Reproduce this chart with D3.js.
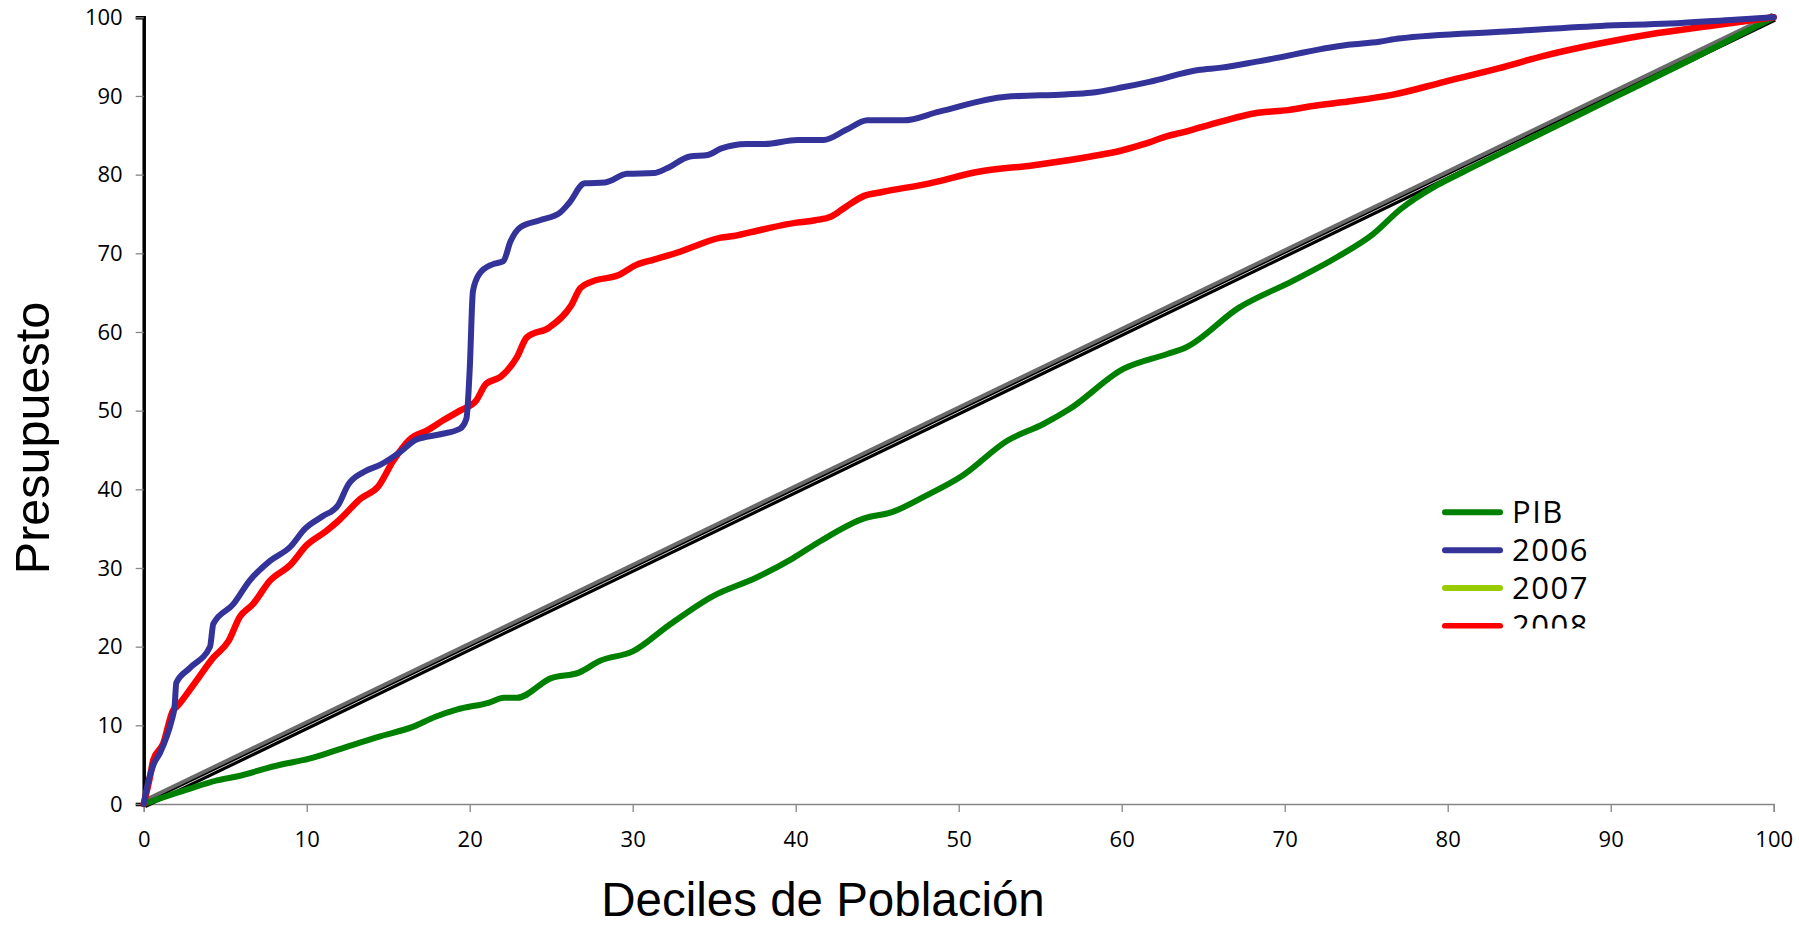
<!DOCTYPE html>
<html><head><meta charset="utf-8">
<script src="https://cdn.jsdelivr.net/npm/d3@7"></script>
<style>body{margin:0;background:#fff}svg{display:block}</style>
</head><body>
<script>
// ---- data ----
const xTicks = [0,10,20,30,40,50,60,70,80,90,100];
const yTicks = [0,10,20,30,40,50,60,70,80,90,100];
const legendLabels = ["PIB","2006","2007","2008"];
const legendColors = ["#008000","#333399","#99CC00","#FF0000"];

const equalityX = [0,100];
const equalityY = [0,100];

const pibX = [0,2.6,4.5,5.7,8.0,10.4,12.5,14.5,16.5,17.9,19.2,21.2,22.1,22.9,25.0,26.7,28.0,30.0,32.2,34.9,37.6,39.8,41.5,44.2,45.9,48.0,50.2,53.0,55.2,56.8,60.1,62.8,63.9,67.2,70.5,73.2,75.4,77.1,79.3,81,85,90,95,100];
const pibY = [0,1.8,3.0,3.5,4.8,5.9,7.3,8.6,9.8,11.1,12.0,12.9,13.5,13.5,16.0,16.7,18.2,19.4,22.7,26.4,28.8,31.2,33.4,36.3,37.1,39.2,41.7,46.2,48.3,50.2,55.3,57.2,58.0,63.1,66.5,69.5,72.4,75.6,78.6,80.4,84.5,89.6,94.7,100];

const s2006X = [0,0.3,0.6,1.0,1.4,1.7,1.9,2.0,2.84,4.07,4.27,5.5,6.5,7.75,9.0,9.9,11.0,11.9,12.55,13.5,14.5,15.7,16.7,18.2,19.4,19.8,20.0,20.2,20.6,21.4,22.06,22.5,23.1,24.3,25.5,26.1,27.05,28.3,29.65,31.3,32.1,33.5,34.6,35.4,37.0,38.1,40.1,41.7,43.1,44.4,46.6,48.8,52.9,56.5,58.1,60.05,61.7,64.7,66.1,68.4,73.9,75.8,77.0,83.6,89.4,93.6,97.6,100];
const s2006Y = [0,3,5,6.5,8.5,10.5,12.5,15.4,17.3,20.0,22.9,25.4,28.4,30.9,32.7,35.0,36.6,37.9,40.6,42.2,43.1,44.7,46.3,47.0,47.7,49.0,55.2,65.2,67.4,68.6,69.0,71.5,73.3,74.2,75.1,76.4,78.9,79.0,80.1,80.2,80.8,82.3,82.5,83.3,83.9,83.9,84.4,84.4,85.7,86.9,86.9,88.0,89.9,90.2,90.4,91.1,91.8,93.3,93.6,94.4,96.5,96.9,97.3,98.2,98.9,99.2,99.7,100];

const s2008X = [0,0.39,0.59,1.2,1.8,2.0,3.0,4.27,5.2,5.9,6.7,7.75,9.0,10.0,11.2,12.0,13.3,14.4,15.3,16.3,17.4,18.4,19.4,20.4,21.0,21.9,22.9,23.5,24.9,26.2,26.8,27.5,29.1,30.2,31.3,32.9,33.8,35.4,36.2,37.9,40.05,41.2,42.2,43.07,44.2,45.3,48.0,51.3,54.6,58.1,60.05,61.4,62.8,63.6,65.0,68.5,70.2,71.6,73.9,76.5,79.8,83.1,85.9,89.4,92.9,96.4,100];
const s2008Y = [0,3.5,5.6,7.7,11.9,12.3,15.0,18.6,20.7,23.8,25.4,28.4,30.4,32.9,34.7,36.1,38.8,40.4,43.6,46.3,47.5,48.8,50.0,51.3,53.4,54.3,56.8,59.3,60.6,63.3,65.6,66.4,67.2,68.5,69.2,70.2,70.9,72.0,72.2,73.0,73.9,74.2,74.7,75.9,77.3,77.8,78.8,80.4,81.2,82.3,83.1,83.9,84.9,85.3,86.1,87.9,88.2,88.7,89.3,90.1,91.8,93.5,95.1,96.7,98.0,99.0,100];

// ---- chart ----
const W = 1799, H = 925;
const svg = d3.select("body").append("svg").attr("width", W).attr("height", H);
const x = d3.scaleLinear().domain([0,100]).range([143.7,1773.7]);
const y = d3.scaleLinear().domain([0,100]).range([804,17.3]);
const tickFont = "'Open Sans', 'Noto Sans', sans-serif";

// x axis
const xAxis = svg.append("g").attr("transform", `translate(0,${y(0)})`)
  .call(d3.axisBottom(x).tickValues(xTicks).tickSize(8).tickPadding(19).tickFormat(d3.format("d")));
xAxis.select(".domain").attr("stroke", "#868686").attr("stroke-width", 1.3);
xAxis.selectAll(".tick line").attr("stroke", "#868686").attr("stroke-width", 1.3);
xAxis.selectAll("text").attr("fill", "#000").style("font-family", tickFont).style("font-size", "22px");

// y axis
const yAxis = svg.append("g").attr("transform", `translate(${x(0)},0)`)
  .call(d3.axisLeft(y).tickValues(yTicks).tickSize(8).tickPadding(13).tickFormat(d3.format("d")));
yAxis.select(".domain").attr("stroke", "#000").attr("stroke-width", 3.5);
yAxis.selectAll(".tick line").attr("stroke", "#868686").attr("stroke-width", 1.3);
yAxis.selectAll("text").attr("fill", "#000").style("font-family", tickFont).style("font-size", "22px");

const lineGen = d3.line().x(d => x(d[0])).y(d => y(d[1])).curve(d3.curveMonotoneX);
const zip = (a, b) => a.map((v, i) => [v, b[i]]);

// equality diagonal (gray shadow + black line with thin white core)
const eq = zip(equalityX, equalityY);
svg.append("path").attr("d", lineGen(eq)).attr("fill","none")
  .attr("stroke","#6a6a6a").attr("stroke-width",5).attr("transform","translate(-0.6,-2.2)");
svg.append("path").attr("d", lineGen(eq)).attr("fill","none")
  .attr("stroke","#000").attr("stroke-width",5.5).attr("transform","translate(1,1.6)");
svg.append("path").attr("d", lineGen(eq)).attr("fill","none")
  .attr("stroke","#fff").attr("stroke-width",0.8).attr("transform","translate(0.6,0.9)");

// series
const series = [
  {data: zip(pibX, pibY), color: legendColors[0], w: 6},
  {data: zip(s2008X, s2008Y), color: legendColors[3], w: 6.5},
  {data: zip(s2006X, s2006Y), color: legendColors[1], w: 6}
];
series.forEach(s => {
  svg.append("path").attr("d", lineGen(s.data)).attr("fill","none")
    .attr("stroke", s.color).attr("stroke-width", s.w)
    .attr("stroke-linejoin","round").attr("stroke-linecap","round");
});

// axis titles
svg.append("text").attr("x", 823).attr("y", 916).attr("text-anchor","middle")
  .style("font-family","'Liberation Sans', Arial, sans-serif").style("font-size","47.5px")
  .text("Deciles de Población");
svg.append("text").attr("transform","translate(49,438) rotate(-90)").attr("text-anchor","middle")
  .style("font-family","'Liberation Sans', Arial, sans-serif").style("font-size","48.5px")
  .text("Presupuesto");

// legend (clipped at bottom as in the original)
svg.append("clipPath").attr("id","legclip").append("rect")
  .attr("x",1400).attr("y",480).attr("width",300).attr("height",148.5);
const leg = svg.append("g").attr("clip-path","url(#legclip)");
legendLabels.forEach((lab, i) => {
  const cy = 512.3 + i*37.9;
  leg.append("line").attr("x1",1445).attr("x2",1500).attr("y1",cy).attr("y2",cy)
    .attr("stroke", legendColors[i]).attr("stroke-width",6).attr("stroke-linecap","round");
  leg.append("text").attr("x",1512).attr("y",cy).attr("dy","0.36em")
    .style("font-family", tickFont).style("font-size","31px").style("letter-spacing","1.5px")
    .text(lab);
});
</script>
</body></html>
